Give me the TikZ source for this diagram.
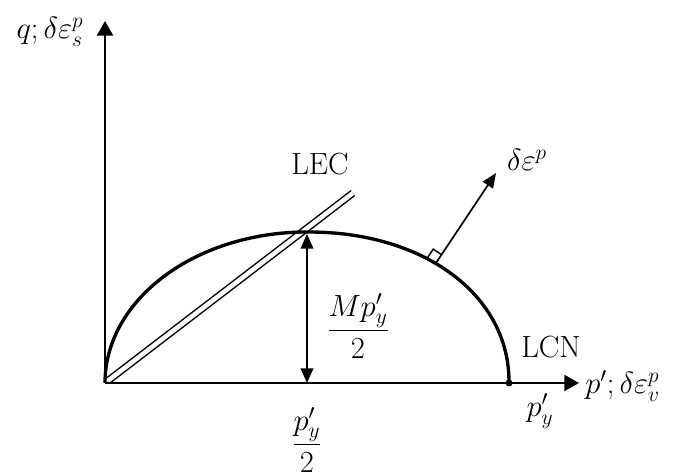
\RequirePackage{fix-cm}
\documentclass[tikz,border=0pt]{standalone}
\usetikzlibrary{arrows.meta,calc}
\begin{document}
\begin{tikzpicture}[x=0.75pt,y=0.75pt,
  lbl/.style={font=\fontsize{23}{27}\selectfont, inner sep=0pt},
  axisline/.style={line width=1.7pt,-{Triangle[length=11pt,width=12pt]}},
  thinline/.style={line width=1.3pt},
  curve/.style={line width=2.5pt, line join=round}]
\useasboundingbox (0,0) rectangle (678,474);
\coordinate (O) at (105,91);
\coordinate (Ytip) at (105,453);
\coordinate (Xtip) at (579,91);
\coordinate (C) at (307,91);
\coordinate (R) at (509,91);
\coordinate (T) at (307,240);
\coordinate (Lend) at (353,281);
\coordinate (P) at (436,211);
\coordinate (Ntip) at (496,301);
% LEC double line
\begin{scope}
  \clip (O) rectangle (678,474);
  \draw[line width=1.1pt, double, double distance=3.4pt] (O) -- (Lend);
\end{scope}
% axes
\draw[axisline] (O) -- (Ytip);
\draw[axisline] (O) -- (Xtip);
% yield curve
\draw[curve] (O) arc[start angle=180, end angle=90, x radius=202, y radius=151]
  -- plot[domain=89.5:0.5, samples=90]
     ({307+202*pow(cos(\x),0.952)},{91+151*pow(sin(\x),0.952)}) -- (R);
\fill (R) circle[radius=3.5];
% vertical double arrow
\draw[thinline,{Triangle[length=11pt,width=9.5pt]}-{Triangle[length=11pt,width=9.5pt]}] (T) -- (C);
% normal vector with right-angle mark
\draw[thinline,-{Triangle[length=11pt,width=9pt]}] (P) -- (Ntip);
\draw[line width=1.1pt] ($(P)+(-8.32,5.55)$) -- ($(P)+(-2.77,13.87)$) -- ($(P)+(5.55,8.32)$);
% labels
\node[lbl] (qlab) at (50,442) {$q;\delta\varepsilon^{p}_{s}$};
\node[lbl] (lec) at (320,310) {LEC};
\node[lbl] (dep) at (527,314) {$\delta\varepsilon^{p}$};
\node[lbl] (lcn) at (551,127) {LCN};
\node[lbl,anchor=west] (plab) at (585,88) {$p';\delta\varepsilon^{p}_{v}$};
\node[lbl] (py) at (540,63) {$p'_y$};
\node[lbl] (half) at (307,34) {$\displaystyle\frac{p'_y}{2}$};
\node[lbl] (mhalf) at (358,148) {$\displaystyle\frac{Mp'_y}{2}$};
\end{tikzpicture}
\end{document}
